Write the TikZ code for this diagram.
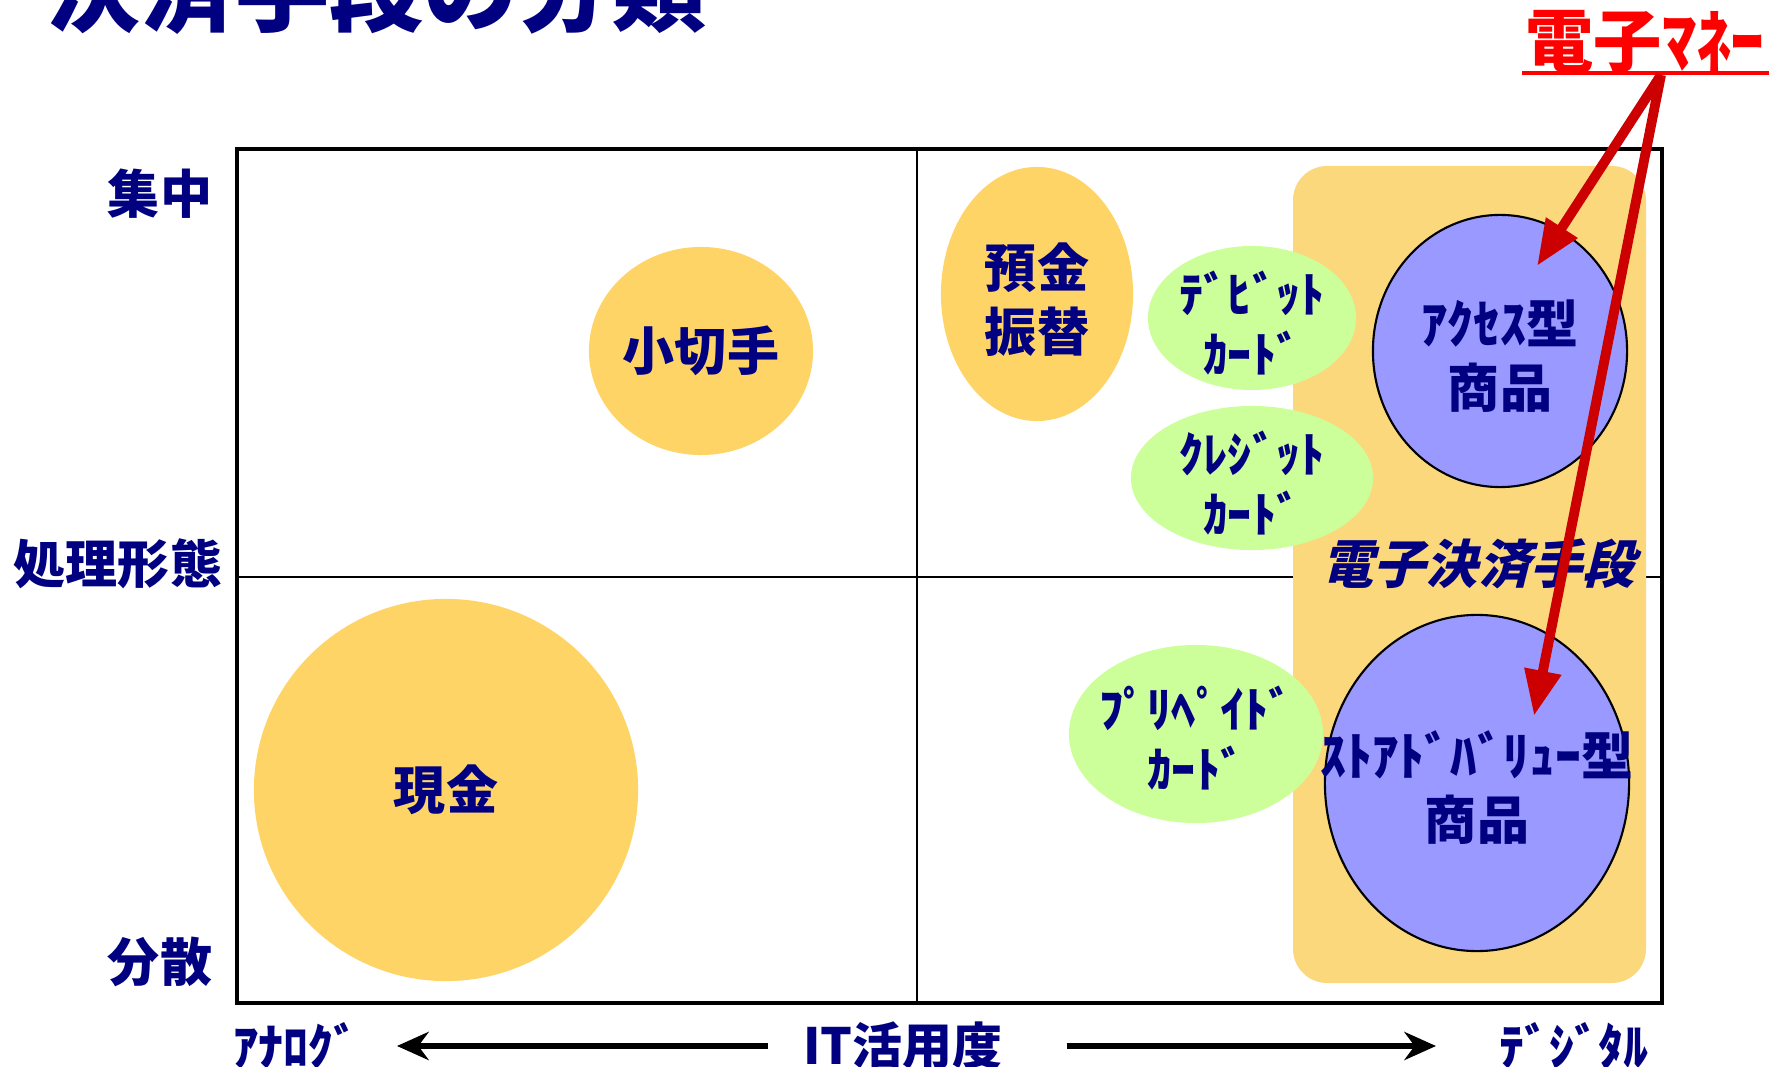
\documentclass[tikz,border=0pt]{standalone}
\usepackage{fontspec}
\newfontfamily\jp{Noto Sans CJK JP}
\newfontfamily\jpslant{Noto Sans CJK JP}[FakeSlant=0.25]
\usepackage{tikz}
\usetikzlibrary{arrows.meta}

\definecolor{navy}{HTML}{000080}
\definecolor{paper}{HTML}{FFD466}
\definecolor{emoney}{HTML}{FCD87C}
\definecolor{card}{HTML}{CCFF99}
\definecolor{product}{HTML}{9999FF}
\definecolor{moneyred}{HTML}{FF0000}
\definecolor{arrowred}{HTML}{CC0000}

\tikzset{
  lbl/.style={text=navy, font=\jp\bfseries\fontsize{14.8}{18.2}\selectfont, align=center, inner sep=0pt},
  cardlbl/.style={lbl, font=\jp\bfseries\fontsize{13.7}{17}\selectfont},
  axislbl/.style={lbl, font=\jp\bfseries\fontsize{14.2}{16}\selectfont},
  itarrow/.style={line width=1.5pt, -{Stealth[length=9pt,width=8pt]}},
  redarrow/.style={draw=arrowred, line width=2.8pt, -{Triangle[length=13pt,width=10pt]}},
}

\begin{document}
\begin{tikzpicture}[x=0.01cm,y=-0.01cm]
  \useasboundingbox (0,0) rectangle (1769,1067);
  \node[anchor=base west, text=navy, font=\jp\bfseries\fontsize{26.8}{30}\selectfont, inner sep=0pt] (title) at (46,25) {決済手段の分類};

  \draw[line width=0.5pt] (917,149) -- (917,1003);
  \draw[line width=0.5pt] (237,577) -- (1662,577);
  \fill[emoney, rounded corners=9.7pt] (1293,166) rectangle (1646,983);
  \draw[line width=1.3pt] (237,149) rectangle (1662,1003);

  \fill[paper] (701,351) ellipse (1.12cm and 1.04cm);
  \fill[paper] (446,790) ellipse (1.92cm and 1.91cm);
  \fill[paper] (1037,294) ellipse (0.96cm and 1.27cm);
  \fill[card] (1252,318) ellipse (1.04cm and 0.72cm);
  \fill[card] (1252,478) ellipse (1.21cm and 0.72cm);
  \fill[card] (1196,734) ellipse (1.27cm and 0.89cm);
  \filldraw[fill=product, line width=0.6pt] (1500,351) ellipse (1.27cm and 1.36cm);
  \filldraw[fill=product, line width=0.6pt] (1477,783) ellipse (1.52cm and 1.68cm);

  \node[lbl] (cheque) at (701,351) {小切手};
  \node[lbl] (cash) at (446,790) {現金};
  \node[lbl] (transfer) at (1037,300) {預金\\振替};
  \node[cardlbl] (debit) at (1252,323) {ﾃﾞﾋﾞｯﾄ\\ｶｰﾄﾞ};
  \node[cardlbl] (credit) at (1252,483) {ｸﾚｼﾞｯﾄ\\ｶｰﾄﾞ};
  \node[cardlbl] (prepaid) at (1196,738) {ﾌﾟﾘﾍﾟｲﾄﾞ\\ｶｰﾄﾞ};
  \node[lbl] (access) at (1500,356) {ｱｸｾｽ型\\商品};
  \node[lbl] (stored) at (1477,788) {ｽﾄｱﾄﾞﾊﾞﾘｭｰ型\\商品};
  \node[lbl, font=\jpslant\bfseries\fontsize{14.8}{18}\selectfont] (means) at (1478,564) {電子決済手段};

  \node[lbl] (high) at (160,194) {集中};
  \node[lbl] (form) at (118,564) {処理形態};
  \node[lbl] (low) at (160,962) {分散};
  \node[axislbl] (analog) at (296,1046) {ｱﾅﾛｸﾞ};
  \node[axislbl] (it) at (903,1046) {IT活用度};
  \node[axislbl] (digital) at (1574,1046) {ﾃﾞｼﾞﾀﾙ};
  \coordinate (analogtip) at (397,1046);
  \coordinate (digitaltip) at (1436,1046);
  \draw[itarrow, shorten <=10pt] (it) -- (analogtip);
  \draw[itarrow, shorten <=18pt] (it) -- (digitaltip);

  \node[text=moneyred, font=\jp\bfseries\fontsize{19.4}{22}\selectfont, inner sep=0pt] (money) at (1645,42) {電子ﾏﾈｰ};
  \coordinate (ulstart) at (1522,73);
  \coordinate (ulend) at (1769,73);
  \draw[moneyred, line width=1pt] (ulstart) -- (ulend);
  \coordinate (moneyfoot) at (1661,75);
  \coordinate (accesstip) at (1537,266);
  \coordinate (storedtip) at (1534,716);
  \draw[redarrow] (moneyfoot) -- (accesstip);
  \draw[redarrow] (moneyfoot) -- (storedtip);
\end{tikzpicture}
\end{document}
